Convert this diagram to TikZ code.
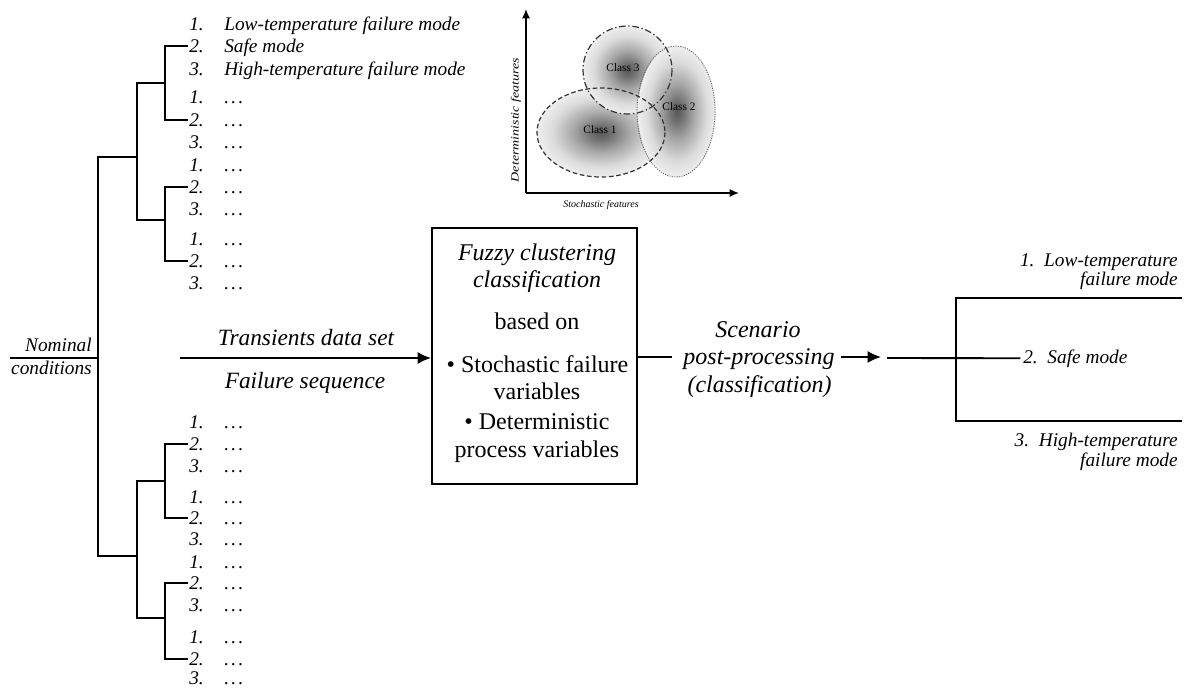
\documentclass[tikz,border=0pt]{standalone}
\usepackage{fontspec}
\setmainfont{Liberation Serif}
\usetikzlibrary{arrows.meta}
\pgfdeclareradialshading{blob}{\pgfpoint{0bp}{0bp}}{color(0bp)=(black!66); color(4bp)=(black!56); color(11bp)=(black!34); color(19bp)=(black!14); color(27bp)=(black!4); color(33bp)=(white); color(100bp)=(white)}
\newcommand{\dd}{.\kern0.12em.\kern0.12em.}
\begin{document}
\begin{tikzpicture}[x=0.75pt,y=-0.75pt,
  ln/.style={line width=1.4pt},
  lst/.style={anchor=base west, inner sep=0pt, font=\fontsize{14.5}{16}\selectfont\itshape},
  big/.style={inner sep=0pt, font=\fontsize{17.5}{20}\selectfont\itshape},
  boxt/.style={anchor=base, inner sep=0pt, font=\fontsize{18}{20}\selectfont},
  rt/.style={inner sep=0pt, font=\fontsize{14.5}{16}\selectfont\itshape},
  sm/.style={inner sep=0pt, font=\fontsize{8.5}{9}\selectfont},
  tip/.style={-{Latex[length=10pt,width=9pt]}}]
\useasboundingbox (0,0) rectangle (1185,688);

% ---------- top list ----------
\foreach \i/\y/\n/\t in {1/24/1/Low-temperature failure mode, 2/46/2/Safe mode, 3/69/3/High-temperature failure mode,
  4/97/1/\dd, 5/120/2/\dd, 6/142/3/\dd, 7/165/1/\dd, 8/187/2/\dd, 9/209/3/\dd, 10/239/1/\dd, 11/261/2/\dd, 12/283/3/\dd}{
  \node[lst] (t\i) at (189,{\y+6.5}) {\n.};
  \node[lst] (tt\i) at (224,{\y+6.5}) {\t};
}
% ---------- bottom list ----------
\foreach \i/\y/\n in {1/422/1, 2/444/2, 3/466/3, 4/497/1, 5/518/2, 6/539/3, 7/562/1, 8/583/2, 9/605/3, 10/637/1, 11/659/2, 12/678/3}{
  \node[lst] (b\i) at (189,{\y+6.5}) {\n.};
  \node[lst] (bb\i) at (224,{\y+6.5}) {\dd};
}

% ---------- tree ----------
\coordinate (g1) at (165,83);
\coordinate (g2) at (165,220);
\coordinate (g3) at (165,481);
\coordinate (g4) at (165,618);
\coordinate (k1) at (137,83);
\coordinate (k2) at (137,220);
\coordinate (k3) at (137,481);
\coordinate (k4) at (137,618);
\coordinate (m1) at (137,157);
\coordinate (m2) at (137,556);
\coordinate (r1) at (98,157);
\coordinate (r2) at (98,556);
\coordinate (root) at (98,358);
\coordinate (nomL) at (10,358);

\draw[ln] ([xshift=-1pt]t2.west) -| (g1) |- ([xshift=-1pt]t5.west);
\draw[ln] ([xshift=-1pt]t8.west) -| (g2) |- ([xshift=-1pt]t11.west);
\draw[ln] ([xshift=-1pt]b2.west) -| (g3) |- ([xshift=-1pt]b5.west);
\draw[ln] ([xshift=-1pt]b8.west) -| (g4) |- ([xshift=-1pt]b11.west);
\draw[ln] (g1) -- (k1) -- (k2) -- (g2);
\draw[ln] (g3) -- (k3) -- (k4) -- (g4);
\draw[ln] (m1) -- (r1) -- (r2) -- (m2);
\draw[ln] (nomL) -- (root);

\node[rt, anchor=base east] (nom1) at (92,351) {Nominal};
\node[rt, anchor=base east] (nom2) at (92,374) {conditions};

% ---------- transients arrow ----------
\node[big, anchor=base] (trans) at (306,345) {Transients data set};
\node[big, anchor=base] (fail) at (305,388) {Failure sequence};

\node[draw, line width=1.4pt, minimum width=153.75pt, minimum height=192pt, inner sep=0pt] (box) at (534.5,356) {};
\coordinate (tstart) at (180,358);
\draw[ln, tip] (tstart) -- (tstart -| box.west);

\node[boxt, font=\fontsize{18}{20}\selectfont\itshape] (f1) at (537,260) {Fuzzy clustering};
\node[boxt, font=\fontsize{18}{20}\selectfont\itshape] (f2) at (537,287) {classification};
\node[boxt] (f3) at (537,329) {based on};
\node[boxt] (f4) at (537.5,372) {\textbullet\ Stochastic failure};
\node[boxt] (f5) at (537,399) {variables};
\node[boxt] (f6) at (537,429) {\textbullet\ Deterministic};
\node[boxt] (f7) at (537,457) {process variables};

% ---------- scenario ----------
\node[boxt, font=\fontsize{18}{20}\selectfont\itshape] (s1) at (758,337) {Scenario};
\node[boxt, font=\fontsize{18}{20}\selectfont\itshape] (s2) at (759,364) {post-processing};
\node[boxt, font=\fontsize{18}{20}\selectfont\itshape] (s3) at (759.5,392) {(classification)};
\coordinate (sA) at (672,357);
\coordinate (sB) at (841,357);
\coordinate (sT) at (881,357);
\draw[ln] (box.east |- sA) -- (sA);
\draw[ln, tip] (sB) -- (sT);

% ---------- outcomes ----------
\coordinate (oL) at (887,358);
\coordinate (v1) at (956,298);
\coordinate (v2) at (956,421);
\coordinate (e1) at (1182,298);
\coordinate (e2) at (1182,421);
\node[rt, anchor=base west] (safe) at (1023,363) {2.\ \ Safe mode};
\draw[ln] (oL) -- ([xshift=-2pt]safe.west);
\draw[ln] (e1) -- (v1) -- (v2) -- (e2);
\node[rt, anchor=base east] (o1a) at (1178,266) {1.\ \ Low-temperature};
\node[rt, anchor=base east] (o1b) at (1178,285) {failure mode};
\node[rt, anchor=base east] (o3a) at (1178,446) {3.\ \ High-temperature};
\node[rt, anchor=base east] (o3b) at (1178,466) {failure mode};

% ---------- scatter plot ----------
\coordinate (O) at (526,193);
\coordinate (Y) at (526,9);
\coordinate (X) at (739,193);
\shade[shading=blob] (601,132.5) ellipse [x radius=64, y radius=44.5];
\shade[shading=blob] (627.5,70) ellipse [x radius=44.5, y radius=44];
\shade[shading=blob] (677,111.5) ellipse [x radius=39, y radius=65.5];
\draw[line width=0.9pt, dash pattern=on 3.5pt off 2pt, black!80] (601,132.5) ellipse [x radius=64, y radius=44.5];
\draw[line width=0.9pt, dash pattern=on 5pt off 2pt on 1pt off 2pt, black!80] (627.5,70) ellipse [x radius=44.5, y radius=44];
\draw[line width=0.6pt, dash pattern=on 0.8pt off 1pt, black!65] (676,111.5) ellipse [x radius=39, y radius=65.5];
\draw[line width=1.1pt, -{Latex[length=7pt,width=6pt]}] (O) -- (Y);
\draw[line width=1.1pt, -{Latex[length=7pt,width=6pt]}] (O) -- (X);
\node[sm] (c1) at (600,130) {Class 1};
\node[sm] (c2) at (679,107) {Class 2};
\node[sm] (c3) at (623,68) {Class 3};
\node[sm, font=\fontsize{7.5}{9}\selectfont\itshape] (xl) at (601,205) {Stochastic features};
\node[sm, font=\fontsize{7.5}{9}\selectfont\itshape, rotate=90, xscale=1.4, yscale=1.1] (yl) at (516,120) {Deterministic features};
\end{tikzpicture}
\end{document}
